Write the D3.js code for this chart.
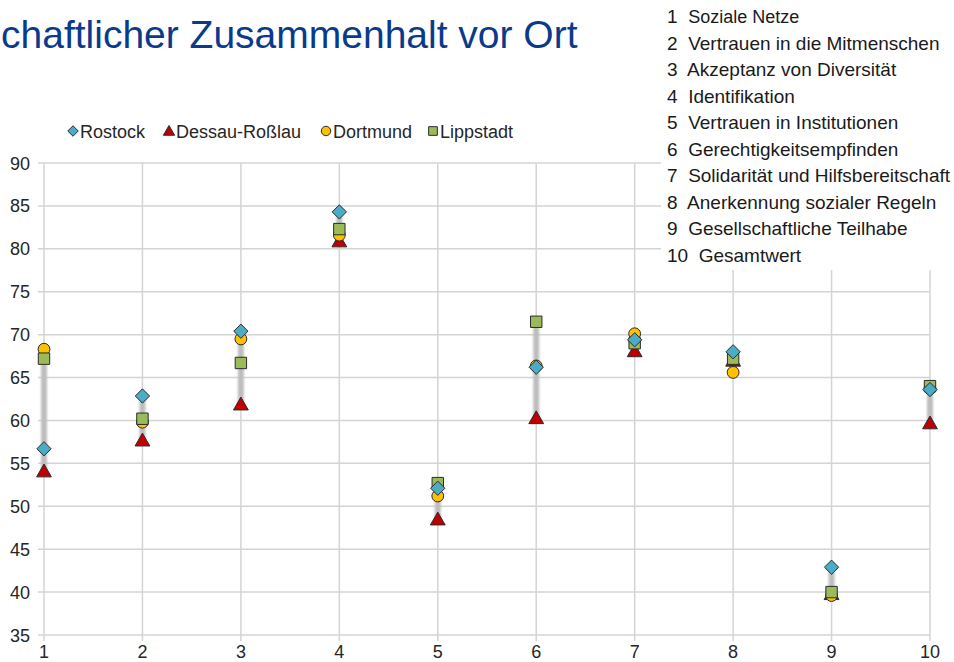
<!DOCTYPE html>
<html><head><meta charset="utf-8">
<script src="https://cdn.jsdelivr.net/npm/d3@7"></script>
<style>body{margin:0;background:#fff;}svg{display:block;font-family:Arial,"Liberation Sans",sans-serif;}</style>
</head><body>
<script>
const categories = [1,2,3,4,5,6,7,8,9,10];
const rostock  = [56.7,62.85,70.4,84.3,52.1,66.2,69.4,68.0,42.9,63.6];
const dessau   = [54.1,57.7,61.9,80.9,48.5,60.3,68.1,67.0,39.8,59.7];
const dortmund = [68.3,59.8,69.5,81.6,51.2,66.35,70.1,65.6,39.6,63.7];
const lippstadt= [67.2,60.2,66.7,82.3,52.7,71.5,69.0,67.2,40.0,64.0];
const yTicks = [35,40,45,50,55,60,65,70,75,80,85,90];
const seriesNames = ["Rostock","Dessau-Roßlau","Dortmund","Lippstadt"];
const dimensions = ["Soziale Netze","Vertrauen in die Mitmenschen","Akzeptanz von Diversität","Identifikation","Vertrauen in Institutionen","Gerechtigkeitsempfinden","Solidarität und Hilfsbereitschaft","Anerkennung sozialer Regeln","Gesellschaftliche Teilhabe","Gesamtwert"];
const titleText = "chaftlicher Zusammenhalt vor Ort";

const W=954,H=662;
const svg=d3.select("body").append("svg").attr("width",W).attr("height",H);
const x=d3.scalePoint().domain(categories).range([44,930]);
const y=d3.scaleLinear().domain([35,90]).range([635,163]);

const defs=svg.append("defs");
defs.append("filter").attr("id","blur").attr("x","-100%").attr("width","300%").attr("y","-10%").attr("height","120%")
  .append("feGaussianBlur").attr("stdDeviation",0.9);

// grid
const g=svg.append("g");
g.selectAll(".hg").data(yTicks).join("line")
 .attr("x1",38).attr("x2",930).attr("y1",d=>y(d)).attr("y2",d=>y(d))
 .attr("stroke","#d4d4d4").attr("stroke-width",1.5);
g.selectAll(".vg").data(categories).join("line")
 .attr("x1",d=>x(d)).attr("x2",d=>x(d)).attr("y1",163).attr("y2",641)
 .attr("stroke","#d4d4d4").attr("stroke-width",1.5);

// y labels
svg.append("g").selectAll("text").data(yTicks).join("text")
 .attr("x",30).attr("y",d=>y(d)+6.5).attr("text-anchor","end")
 .attr("font-size",18).attr("fill","#262626").text(d=>d);
// x labels
svg.append("g").selectAll("text").data(categories).join("text")
 .attr("x",d=>x(d)).attr("y",658).attr("text-anchor","middle")
 .attr("font-size",18).attr("fill","#262626").text(d=>d);

// high-low bars
const all=[rostock,dessau,dortmund,lippstadt];
const hl=categories.map((c,i)=>({c,lo:d3.min(all,s=>s[i]),hi:d3.max(all,s=>s[i])}));
svg.append("g").selectAll("rect").data(hl).join("rect")
 .attr("x",d=>x(d.c)-3).attr("width",6).attr("y",d=>y(d.hi)).attr("height",d=>y(d.lo)-y(d.hi))
 .attr("fill","#bdbdbd").attr("filter","url(#blur)");

const colors={Rostock:"#4bacc6","Dessau-Roßlau":"#c00000",Dortmund:"#ffc000",Lippstadt:"#9bbb59"};
const symTypes={Rostock:d3.symbolDiamond2,"Dessau-Roßlau":d3.symbolTriangle,Dortmund:d3.symbolCircle,Lippstadt:d3.symbolSquare};
const symSizes={Rostock:130,"Dessau-Roßlau":95,Dortmund:110,Lippstadt:130};
const dataMap={Rostock:rostock,"Dessau-Roßlau":dessau,Dortmund:dortmund,Lippstadt:lippstadt};
const drawOrder=["Dessau-Roßlau","Dortmund","Lippstadt","Rostock"];
drawOrder.forEach(name=>{
  svg.append("g").selectAll("path").data(categories).join("path")
   .attr("d",d3.symbol(symTypes[name],symSizes[name])())
   .attr("transform",(d,i)=>`translate(${x(d)},${y(dataMap[name][i])+(name==="Dessau-Roßlau"?1.5:0)})`)
   .attr("fill",colors[name]).attr("stroke","#2b2b2b").attr("stroke-width",1);
});

// legend
const legX=[73,169,326,433];
const leg=svg.append("g");
seriesNames.forEach((n,i)=>{
  const sz={Rostock:70,"Dessau-Roßlau":55,Dortmund:70,Lippstadt:75}[n];
  leg.append("path").attr("d",d3.symbol(symTypes[n],sz)()).attr("transform",`translate(${legX[i]},${131+(n==="Dessau-Roßlau"?1:0)})`)
   .attr("fill",colors[n]).attr("stroke","#2b2b2b").attr("stroke-width",1);
  leg.append("text").attr("x",legX[i]+7).attr("y",137.5).attr("font-size",18).attr("fill","#262626").text(n);
});

// white box for list
svg.append("rect").attr("x",661).attr("y",0).attr("width",W-661).attr("height",270).attr("fill","#fff");
const list=svg.append("g");
dimensions.forEach((d,i)=>{
  const t=list.append("text").attr("x",667).attr("y",23+i*26.5).attr("font-size",19).attr("fill","#1a1a1a");
  t.append("tspan").text((i+1)+"\u00a0 ");
  t.append("tspan").attr("font-size",i===0?18:19).text(d);
});

// title
svg.append("text").attr("x",1).attr("y",48).attr("font-size",39).attr("fill","#0a3a8c").text(titleText);
</script>
</body></html>
